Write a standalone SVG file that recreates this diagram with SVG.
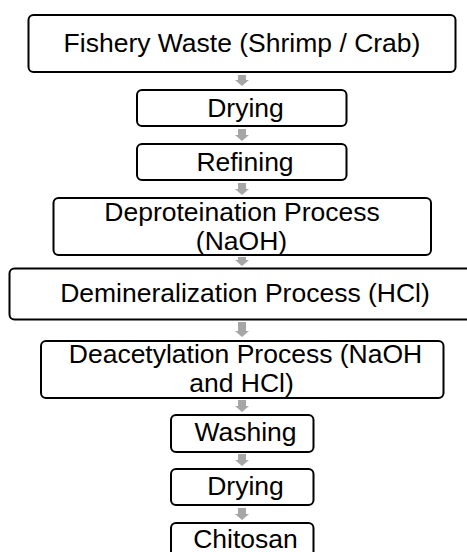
<svg xmlns="http://www.w3.org/2000/svg" width="467" height="552" viewBox="0 0 467 552">
<style>
.box{fill:#fff;stroke:#000;stroke-width:2}
.t{font-family:"Liberation Sans",Arial,sans-serif;font-size:26.5px;fill:#000;text-anchor:middle}
.arr{fill:#a6a6a6;stroke:none}
</style>
<rect width="467" height="552" fill="#fff"/>
<g id="connectors">
<path class="arr" d="M238,75 h8 v5 h3 l-7,6 l-7,-6 h3 z"/>
<path class="arr" d="M238,129 h8 v6 h3 l-7,6 l-7,-6 h3 z"/>
<path class="arr" d="M238,183 h8 v6 h3 l-7,6 l-7,-6 h3 z"/>
<path class="arr" d="M238,257 h8 v3 h3 l-7,6 l-7,-6 h3 z"/>
<path class="arr" d="M238,322 h8 v9 h3 l-7,6 l-7,-6 h3 z"/>
<path class="arr" d="M238,400 h8 v6 h3 l-7,6 l-7,-6 h3 z"/>
<path class="arr" d="M238,454 h8 v6 h3 l-7,6 l-7,-6 h3 z"/>
<path class="arr" d="M238,508 h8 v6 h3 l-7,6 l-7,-6 h3 z"/>
</g>
<g id="n1"><rect class="box" x="28.5" y="15" width="427" height="57" rx="5"/><text class="t" x="242" y="52">Fishery Waste (Shrimp / Crab)</text></g>
<g id="n2"><rect class="box" x="137" y="90" width="209.5" height="36" rx="5"/><text class="t" x="245.5" y="116.5">Drying</text></g>
<g id="n3"><rect class="box" x="137" y="144" width="209.5" height="36" rx="5"/><text class="t" x="245" y="170.5">Refining</text></g>
<g id="n4"><rect class="box" x="53.5" y="198" width="377.5" height="57" rx="5"/><text class="t" x="242" y="221">Deproteination Process</text><text class="t" x="241.5" y="249.5">(NaOH)</text></g>
<g id="n5"><rect class="box" x="9.5" y="268.5" width="472" height="51" rx="5"/><text class="t" x="245" y="301.5">Demineralization Process (HCl)</text></g>
<g id="n6"><rect class="box" x="41" y="341" width="402.5" height="57" rx="5"/><text class="t" x="245.5" y="362.5">Deacetylation Process (NaOH</text><text class="t" x="241.5" y="391.5">and HCl)</text></g>
<g id="n7"><rect class="box" x="171" y="415" width="142.5" height="37" rx="5"/><text class="t" x="245.5" y="440.5">Washing</text></g>
<g id="n8"><rect class="box" x="171" y="469" width="142.5" height="36" rx="5"/><text class="t" x="245.5" y="495">Drying</text></g>
<g id="n9"><rect class="box" x="171" y="523" width="142.5" height="40" rx="5"/><text class="t" x="245.5" y="547.5">Chitosan</text></g>
</svg>
